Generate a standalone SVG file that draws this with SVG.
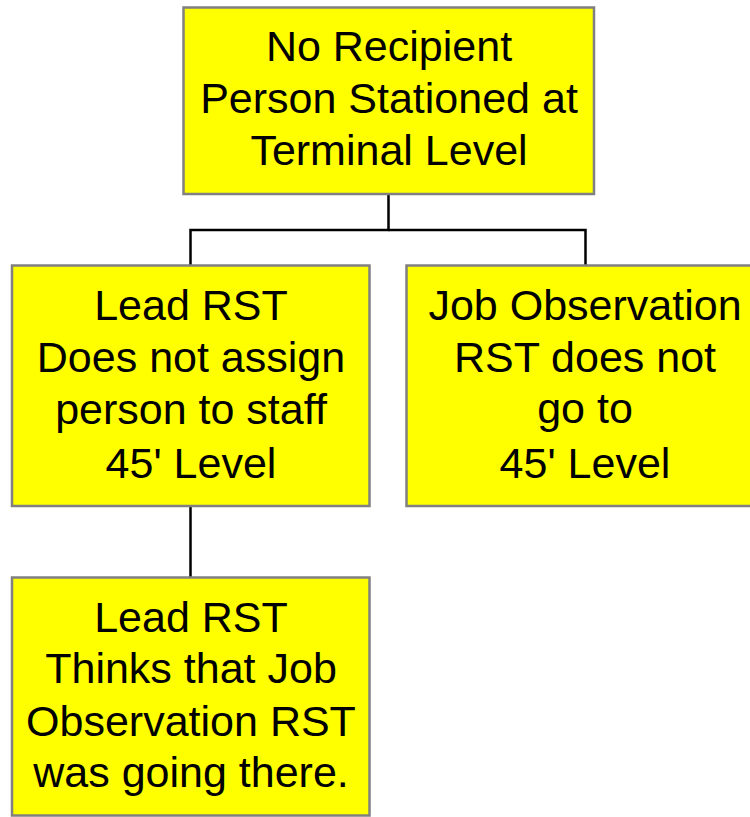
<svg xmlns="http://www.w3.org/2000/svg" width="750" height="817" viewBox="0 0 750 817">
<style>
.box{fill:#ffff00;stroke:#808080;stroke-width:2.5}
.t{font-family:"Liberation Sans",Arial,sans-serif;font-size:43px;fill:#000;text-anchor:middle}
.c{fill:none;stroke:#000;stroke-width:2.5}
</style>
<rect width="750" height="817" fill="#fff"/>
<g id="connectors">
<polyline class="c" points="388.5,194 388.5,230 190.5,230 190.5,265"/>
<polyline class="c" points="388.5,230 585.5,230 585.5,265"/>
<line class="c" x1="190.5" y1="506" x2="190.5" y2="577"/>
</g>
<g id="n1">
<rect class="box" x="183.5" y="7.5" width="410.5" height="186.5"/>
<text class="t" x="389" y="61">No Recipient</text>
<text class="t" x="389" y="113">Person Stationed at</text>
<text class="t" x="389" y="165">Terminal Level</text>
</g>
<g id="n2">
<rect class="box" x="12" y="265.5" width="357.5" height="240.5"/>
<text class="t" x="191" y="320">Lead RST</text>
<text class="t" x="191" y="372">Does not assign</text>
<text class="t" x="191" y="424">person to staff</text>
<text class="t" x="191" y="478">45' Level</text>
</g>
<g id="n3">
<rect class="box" x="406.5" y="265.5" width="358" height="240.5"/>
<text class="t" x="585" y="320">Job Observation</text>
<text class="t" x="585" y="372">RST does not</text>
<text class="t" x="585" y="423">go to</text>
<text class="t" x="585" y="478">45' Level</text>
</g>
<g id="n4">
<rect class="box" x="12" y="577.5" width="357.5" height="238"/>
<text class="t" x="191" y="632">Lead RST</text>
<text class="t" x="191" y="683">Thinks that Job</text>
<text class="t" x="191" y="736">Observation RST</text>
<text class="t" x="191" y="787">was going there.</text>
</g>
</svg>
